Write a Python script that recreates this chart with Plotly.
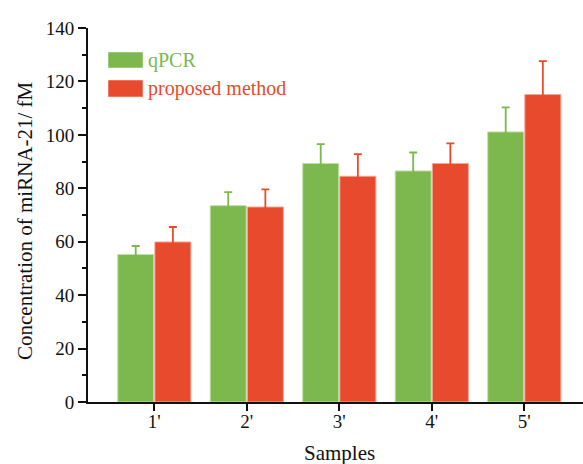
import plotly.graph_objects as go

samples = ["1'", "2'", "3'", "4'", "5'"]
qpcr = [55.2, 73.5, 89.3, 86.5, 101.1]
qpcr_err = [3.2, 5.1, 7.2, 6.9, 9.2]
proposed = [59.9, 73.0, 84.5, 89.3, 115.1]
proposed_err = [5.6, 6.6, 8.3, 7.5, 12.5]

GREEN = "#7DB84E"
RED = "#E84A2E"
FONT = "Liberation Serif, Times New Roman, serif"
INK = "#111111"

W, H = 583, 464
L, R, T, B = 88, 0, 28, 62

fig = go.Figure()
fig.add_trace(go.Bar(
    x=samples, y=qpcr, name="qPCR",
    marker=dict(color=GREEN, line=dict(color="#C2E0A6", width=1)),
    error_y=dict(type="data", array=qpcr_err, symmetric=True,
                 color=GREEN, thickness=1.8, width=4),
))
fig.add_trace(go.Bar(
    x=samples, y=proposed, name="proposed method",
    marker=dict(color=RED, line=dict(color="#F5A595", width=1)),
    error_y=dict(type="data", array=proposed_err, symmetric=True,
                 color=RED, thickness=1.8, width=4),
))

pw = W - L - R
ph = H - T - B

def px(x):
    return (x - L) / pw

def py(y):
    return (H - B - y) / ph

shapes = []
annotations = []
legend_items = [("qPCR", GREEN, 52, 68), ("proposed method", RED, 80, 97)]
for name, col, y0, y1 in legend_items:
    shapes.append(dict(type="rect", xref="paper", yref="paper",
                       x0=px(108), x1=px(143), y0=py(y1), y1=py(y0),
                       fillcolor=col, line=dict(color="#FFFFFF", width=0.5)))
    annotations.append(dict(xref="paper", yref="paper", x=px(146), y=py((y0 + y1) / 2),
                            text=name, showarrow=False, xanchor="left", yanchor="middle",
                            font=dict(family=FONT, size=20, color=col)))

annotations.append(dict(xref="paper", yref="paper", x=px(339), y=py(453),
                        text="Samples", showarrow=False, xanchor="center", yanchor="middle",
                        font=dict(family=FONT, size=21, color=INK)))
annotations.append(dict(xref="paper", yref="paper", x=px(25), y=py(221),
                        text="Concentration of miRNA-21/ fM", showarrow=False, textangle=-90,
                        xanchor="center", yanchor="middle",
                        font=dict(family=FONT, size=21, color=INK)))

fig.update_layout(
    width=W, height=H,
    margin=dict(l=L, r=R, t=T, b=B, pad=0),
    paper_bgcolor="#FFFFFF", plot_bgcolor="#FFFFFF",
    barmode="group", bargap=0.197, bargroupgap=0.03,
    showlegend=False,
    shapes=shapes, annotations=annotations,
    font=dict(family=FONT, size=19, color=INK),
)
fig.update_xaxes(
    range=[-0.717, 4.635], showline=True, linecolor=INK, linewidth=2,
    ticks="outside", ticklen=7, tickwidth=2, tickcolor=INK,
    ticklabelstandoff=-6,
    showgrid=False, zeroline=False,
    tickfont=dict(family=FONT, size=19, color=INK),
)
fig.update_yaxes(
    range=[0, 140], tickvals=[0, 20, 40, 60, 80, 100, 120, 140],
    showline=True, linecolor=INK, linewidth=2,
    ticks="outside", ticklen=8, tickwidth=2, tickcolor=INK,
    minor=dict(dtick=10, ticks="outside", ticklen=4, tickwidth=1.5, tickcolor=INK, showgrid=False),
    showgrid=False, zeroline=False,
    tickfont=dict(family=FONT, size=19, color=INK),
)

fig.write_html("out.html")
